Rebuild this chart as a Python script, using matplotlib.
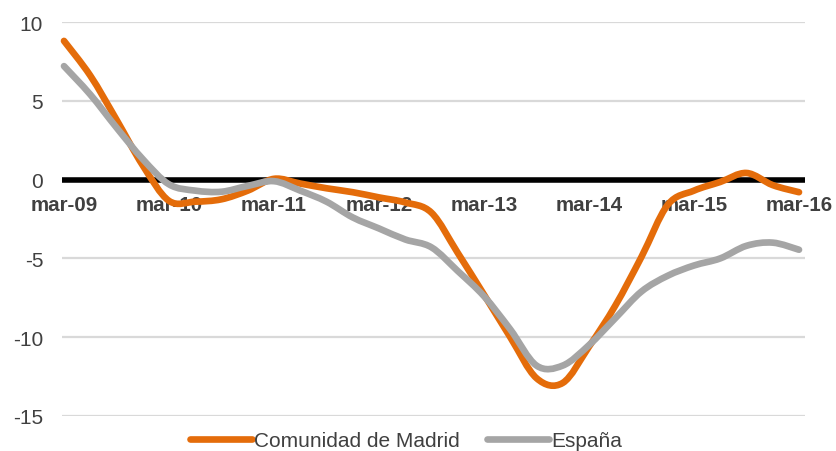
import matplotlib
matplotlib.use("Agg")
import matplotlib.pyplot as plt
from matplotlib.path import Path
from matplotlib.patches import PathPatch
from matplotlib.lines import Line2D
import numpy as np

plt.rcParams['font.family'] = ['Liberation Sans', 'DejaVu Sans']

# Quarterly observations, mar-09 .. mar-16
year_labels = ['mar-09', 'mar-10', 'mar-11', 'mar-12', 'mar-13', 'mar-14', 'mar-15', 'mar-16']
madrid = [8.8, 6.6, 3.8, 0.9, -1.35, -1.4, -1.25, -0.7, 0.05, -0.25, -0.55, -0.8, -1.13, -1.45,
          -2.1, -4.65, -7.3, -10.0, -12.6, -12.9, -10.6, -8.0, -4.9, -1.6, -0.7, -0.15, 0.42, -0.35, -0.8]
espana = [7.2, 5.4, 3.3, 1.3, -0.3, -0.7, -0.77, -0.4, -0.1, -0.7, -1.4, -2.4, -3.1, -3.8,
          -4.3, -5.8, -7.4, -9.5, -11.8, -11.8, -10.5, -8.8, -7.1, -6.1, -5.45, -5.0, -4.2, -4.0, -4.45]
series_names = ['Comunidad de Madrid', 'España']
series_colors = ['#E46C0A', '#A5A5A5']

W, H = 837, 452
fig = plt.figure(figsize=(W / 100, H / 100), dpi=100)
ax = fig.add_axes([62 / W, (H - 417) / H, (805 - 62) / W, (417 - 23) / H])

n = len(madrid)
x = np.arange(n)
step = 26.25
ax.set_xlim(-2 / step, (n - 1) + 6 / step)
ax.set_ylim(-15, 10)


def smooth_path(xs, ys):
    xs = np.asarray(xs, float)
    ys = np.asarray(ys, float)
    verts = [(xs[0], ys[0])]
    codes = [Path.MOVETO]
    m = len(xs)
    for i in range(m - 1):
        p0 = (xs[max(i - 1, 0)], ys[max(i - 1, 0)])
        p1 = (xs[i], ys[i])
        p2 = (xs[i + 1], ys[i + 1])
        p3 = (xs[min(i + 2, m - 1)], ys[min(i + 2, m - 1)])
        c1 = (p1[0] + (p2[0] - p0[0]) / 6, p1[1] + (p2[1] - p0[1]) / 6)
        c2 = (p2[0] - (p3[0] - p1[0]) / 6, p2[1] - (p3[1] - p1[1]) / 6)
        verts += [c1, c2, p2]
        codes += [Path.CURVE4] * 3
    return Path(verts, codes)


# grid
for v in [10, 5, -5, -10, -15]:
    ax.axhline(v, color='#D9D9D9', lw=1.6, zorder=1)
ax.axhline(0, color='black', lw=4.0, zorder=2)

for ys, c in zip([madrid, espana], series_colors):
    patch = PathPatch(smooth_path(x, ys), facecolor='none', edgecolor=c, lw=4.8,
                      capstyle='round', joinstyle='round', zorder=3, clip_on=False)
    ax.add_patch(patch)

for s in ax.spines.values():
    s.set_visible(False)
ax.spines['bottom'].set_position(('data', 0))

ax.set_yticks([10, 5, 0, -5, -10, -15])
ax.set_yticklabels(['10', '5', '0', '-5', '-10', '-15'])
ax.tick_params(axis='y', length=0, pad=13.5, labelsize=15, labelcolor='#404040')
ax.set_xticks(np.arange(0, n, 4))
ax.set_xticklabels(year_labels)
ax.tick_params(axis='x', length=0, pad=11, labelsize=14.8, labelcolor='#404040')
for t in ax.get_xticklabels():
    t.set_fontweight('bold')

handles = [Line2D([0], [0], color=c, lw=4.8, solid_capstyle='round') for c in series_colors]
fig.legend(handles, series_names, loc='center', bbox_to_anchor=(406 / W, (H - 441.5) / H),
           ncol=2, frameon=False, fontsize=15, handlelength=3.0, handletextpad=0.1,
           columnspacing=1.3, labelcolor='#404040', borderpad=0, borderaxespad=0)

fig.savefig('out.png', dpi=100)
